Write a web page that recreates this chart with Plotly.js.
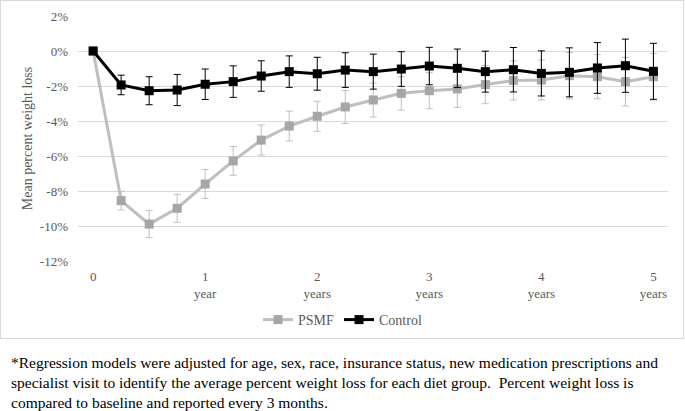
<!DOCTYPE html>
<html>
<head>
<meta charset="utf-8">
<script src="https://cdn.plot.ly/plotly-3.0.1.min.js"></script>
<style>
  html, body { margin: 0; padding: 0; background: #fff; }
  #wrap { position: relative; width: 685px; height: 411px; }
  #chart { width: 685px; height: 411px; }
  #frame { position: absolute; left: 0; top: 0; width: 682px; height: 337px; border: 1px solid #d9d9d9; pointer-events: none; }
</style>
</head>
<body>
<div id="wrap">
  <div id="chart"></div>
  <div id="frame"></div>
</div>
<script>
// Time since baseline, in years (reported every 3 months)
const years = [0, 0.25, 0.5, 0.75, 1, 1.25, 1.5, 1.75, 2, 2.25, 2.5, 2.75, 3, 3.25, 3.5, 3.75, 4, 4.25, 4.5, 4.75, 5];

// Mean percent weight loss
const psmf = [0, -8.55, -9.89, -8.99, -7.60, -6.28, -5.09, -4.29, -3.73, -3.20, -2.80, -2.42, -2.27, -2.17, -1.92, -1.68, -1.66, -1.41, -1.47, -1.75, -1.47];
const control = [0, -1.94, -2.27, -2.23, -1.90, -1.75, -1.43, -1.18, -1.30, -1.09, -1.18, -1.03, -0.86, -0.99, -1.18, -1.07, -1.28, -1.22, -0.97, -0.84, -1.16];

// 95% confidence half-widths
const psmfErr = [0, 0.53, 0.77, 0.80, 0.83, 0.82, 0.86, 0.85, 0.86, 0.94, 0.97, 0.96, 1.03, 1.05, 1.09, 1.12, 1.14, 1.33, 1.26, 1.39, 1.33];
const controlErr = [0, 0.56, 0.80, 0.89, 0.87, 0.90, 0.87, 0.90, 0.94, 0.99, 1.00, 0.99, 1.07, 1.10, 1.17, 1.27, 1.29, 1.40, 1.45, 1.52, 1.60];

// Axis ticks
const xTickVals = [0, 1, 2, 3, 4, 5];
const xTickText = ["0", "1<br>year", "2<br>years", "3<br>years", "4<br>years", "5<br>years"];
const yTickVals = [2, 0, -2, -4, -6, -8, -10, -12];
const yTickText = ["2%", "0%", "-2%", "-4%", "-6%", "-8%", "-10%", "-12%"];

const seriesNames = ["PSMF", "Control"];
const yTitle = "Mean percent weight loss";
const footnote = "*Regression models were adjusted for age, sex, race, insurance status, new medication prescriptions and<br>specialist visit to identify the average percent weight loss for each diet group.  Percent weight loss is<br>compared to baseline and reported every 3 months.";

const serif = 'Liberation Serif, Times New Roman, serif';

const traces = [
  {
    x: years, y: psmf, name: seriesNames[0], type: 'scatter', mode: 'lines+markers',
    line: { color: '#bfbfbf', width: 3 },
    marker: { symbol: 'square', size: 9, color: '#a6a6a6', line: { width: 0 } },
    error_y: { type: 'data', array: psmfErr, visible: true, color: '#bfbfbf', thickness: 1, width: 3.5 }
  },
  {
    x: years, y: control, name: seriesNames[1], type: 'scatter', mode: 'lines+markers',
    line: { color: '#000000', width: 3 },
    marker: { symbol: 'square', size: 9, color: '#000000', line: { width: 0 } },
    error_y: { type: 'data', array: controlErr, visible: true, color: '#000000', thickness: 1, width: 3.5 }
  }
];

const layout = {
  width: 685, height: 411,
  margin: { l: 78, r: 17, t: 16, b: 150 },
  paper_bgcolor: '#ffffff', plot_bgcolor: '#ffffff',
  font: { family: serif, size: 13, color: '#595959' },
  showlegend: true,
  legend: {
    orientation: 'h', xref: 'container', yref: 'container',
    x: 0.5, xanchor: 'center', y: 1 - 320 / 411, yanchor: 'middle',
    font: { family: serif, size: 14, color: '#595959' },
    itemwidth: 30, tracegroupgap: 0
  },
  xaxis: {
    range: [-0.135, 5.13], tickvals: xTickVals, ticktext: xTickText,
    showgrid: false, zeroline: false, showline: false, ticks: '', ticklabelstandoff: 6,
    tickfont: { family: serif, size: 13, color: '#595959' }, fixedrange: true
  },
  yaxis: {
    range: [-12, 2], tickvals: yTickVals, ticktext: yTickText,
    showgrid: true, gridcolor: '#d9d9d9', gridwidth: 1,
    zeroline: false, showline: false, ticks: '', ticklabelstandoff: 9,
    tickfont: { family: serif, size: 13, color: '#595959' },
    title: { text: yTitle, font: { family: serif, size: 14, color: '#595959' }, standoff: 3 },
    fixedrange: true
  },
  annotations: [
    {
      text: footnote, xref: 'paper', yref: 'paper', showarrow: false,
      x: -78 / 590, xanchor: 'left', xshift: 9,
      y: -(352 - 261) / 245, yanchor: 'top', align: 'left',
      font: { family: serif, size: 15.5, color: '#000000' }
    }
  ]
};

Plotly.newPlot('chart', traces, layout, { displayModeBar: false, staticPlot: true });
</script>
</body>
</html>
